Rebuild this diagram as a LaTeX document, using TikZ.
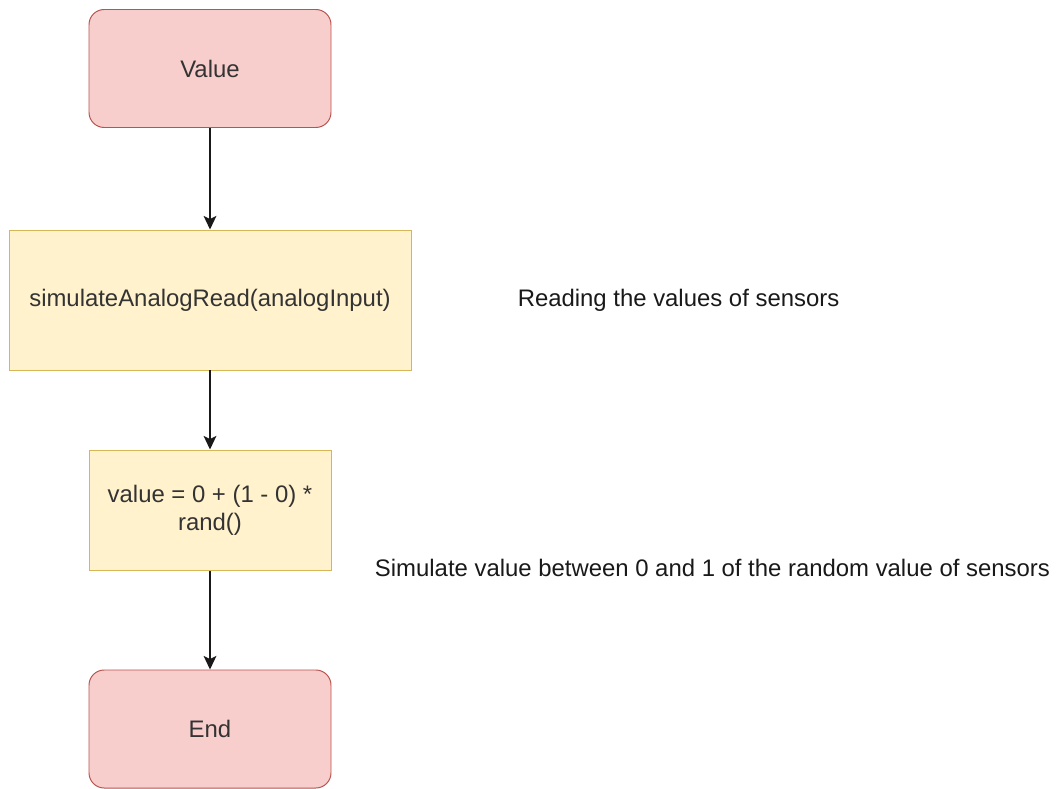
\documentclass[tikz,border=0pt]{standalone}
\usepackage{fontspec}
\setmainfont{Liberation Sans}
\usetikzlibrary{arrows.meta}

\definecolor{termfill}{HTML}{F8CECC}
\definecolor{termline}{HTML}{B85450}
\definecolor{procfill}{HTML}{FFF2CC}
\definecolor{procline}{HTML}{D6B656}

\begin{document}
\begin{tikzpicture}[
    terminal/.style={draw=termline, fill=termfill, line width=0.7pt, rounded corners=0.38cm,
        minimum width=6.05cm, minimum height=2.95cm, text=black!80, font=\fontsize{17}{20}\selectfont},
    process/.style={draw=procline, fill=procfill, line width=0.7pt,
        text=black!80, align=center, font=\fontsize{17}{20}\selectfont},
    remark/.style={anchor=west, text=black!90, font=\fontsize{17}{20}\selectfont},
    flow/.style={-{Stealth[length=0.34cm, width=0.32cm, inset=0.08cm]}, line width=1pt, black!90}
    ]
            % page frame
            \useasboundingbox (0, 0) rectangle (26.45, -19.725);

            % the chain of steps
            \node[terminal] (start) at (5.25, -1.7125) {Value};
            \node[process, minimum width=10.05cm, minimum height=3.5cm] (read) at (5.25, -7.5) {simulateAnalogRead(analogInput)};
            \node[process, minimum width=6.05cm, minimum height=3.02cm] (calc) at (5.25, -12.76) {value = 0 + (1 - 0) *\\rand()};
            \node[terminal] (stop) at (5.25, -18.225) {End};

            \draw[flow] (start) -- (read);
            \draw[flow] (read) -- (calc);
            \draw[flow] (calc) -- (stop);

            % notes beside the steps
            \node[remark] (readnote) at (12.82, -7.5) {Reading the values of sensors};
            \node[remark] (calcnote) at (9.25, -14.2) {Simulate value between 0 and 1 of the random value of sensors};
        \end{tikzpicture}
\end{document}
